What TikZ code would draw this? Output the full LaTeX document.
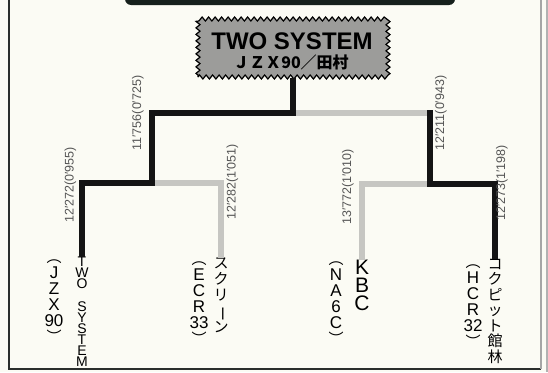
\documentclass[tikz,border=0pt]{standalone}
\usepackage{fontspec}
\usepackage{graphicx}
\setmainfont{Liberation Sans}
\newfontfamily\jpf{Noto Sans CJK JP}
\usetikzlibrary{decorations.pathmorphing}
\definecolor{bg}{HTML}{FBFBF4}
\definecolor{wincol}{HTML}{141414}
\definecolor{losecol}{HTML}{C6C6C2}
\definecolor{labcol}{HTML}{555555}
\definecolor{badgecol}{HTML}{9C9C9A}
\definecolor{barcol}{HTML}{16201C}
\definecolor{framecol}{HTML}{2A2E2C}
\newcommand\mytpar{{\jpf\fontsize{15}{15}\selectfont ︵}}
\newcommand\mybpar{{\jpf\fontsize{15}{15}\selectfont ︶}}
\newcommand\myvbar{\rotatebox[origin=c]{-90}{ー}}
\begin{document}
\begin{tikzpicture}[x=1pt,y=-1pt,
  win/.style={draw=wincol, line width=6pt, line join=miter},
  lose/.style={draw=losecol, line width=6pt, line join=miter},
  lab/.style={rotate=90, text=labcol, font=\fontsize{12.5}{13}\selectfont, inner sep=0pt},
  leaf/.style={anchor=north, align=center, inner sep=0pt, text=black},
  paren/.style={leaf, font=\fontsize{17}{16}\selectfont},
  badge/.style={draw=black, line width=1.2pt, fill=badgecol, minimum width=190pt,
    minimum height=58pt, decorate, decoration={zigzag, segment length=6.5pt, amplitude=2pt}},
]
\fill[bg] (0,0) rectangle (548,372);
\useasboundingbox (0,0) rectangle (548,372);
\fill[barcol, rounded corners=6pt] (125,-12) rectangle (455,5);
\draw[framecol, line width=2.2pt] (9,0) -- (9,369) -- (541,369);
\draw[gray!70, line width=1.2pt] (541,0) -- (541,369);
\fill[gray!60] (546,0) rectangle (548,372);

% badge
\node[badge] (root) at (293,48) {};
\node[font=\fontsize{24}{24}\selectfont\bfseries, inner sep=0pt] (t1) at (292,41) {TWO SYSTEM};
\node[font=\jpf\bfseries\fontsize{16}{16}\selectfont, inner sep=0pt] (t2) at (291,62) {ＪＺＸ90／田村};

% leaves
\node[leaf, font=\fontsize{14}{11}\selectfont] (lA) at (82,257) {T\\W\\O\\[12pt]S\\Y\\S\\T\\E\\M};
\node[paren] (pA) at (54,260) {\mytpar\\J\\Z\\X\\90\\\mybpar};
\node[leaf, font=\jpf\fontsize{15}{16}\selectfont] (lB) at (221,258) {ス\\ク\\リ\\\myvbar\\ン};
\node[paren] (pB) at (199,262) {\mytpar\\E\\C\\R\\33\\\mybpar};
\node[leaf, font=\fontsize{21}{18}\selectfont] (lC) at (362,260) {K\\B\\C};
\node[paren] (pC) at (336,262) {\mytpar\\N\\A\\6\\C\\\mybpar};
\node[leaf, font=\jpf\fontsize{15}{15.5}\selectfont] (lD) at (495,259) {コ\\ク\\ピ\\ッ\\ト\\館\\林};
\node[paren] (pD) at (473,265) {\mytpar\\H\\C\\R\\32\\\mybpar};

% joints
\coordinate (s) at (293,113);
\coordinate (L) at (152,113);
\coordinate (R) at (430,113);
\coordinate (LL) at (152,183);
\coordinate (RR) at (430,184);

% losers
\draw[lose] (s) -- (R);
\draw[lose] (LL) -| (lB.north);
\draw[lose] (RR) -| (lC.north);
% winners
\draw[win] (root.south) -- (s) -- (L) -- (LL) -| (lA.north);
\draw[win] ([yshift=3pt]R) -- (RR) -| (lD.north);

% times
\node[lab] (k1) at (138,113) {11′756(0′725)};
\node[lab] (k2) at (70.5,185) {12′272(0′955)};
\node[lab] (k3) at (232.5,182) {12′282(1′051)};
\node[lab] (k4) at (348,187) {13′772(1′010)};
\node[lab] (k5) at (441,113) {12′211(0′943)};
\node[lab] (k6) at (502,183) {12′273(1′198)};
\end{tikzpicture}
\end{document}
